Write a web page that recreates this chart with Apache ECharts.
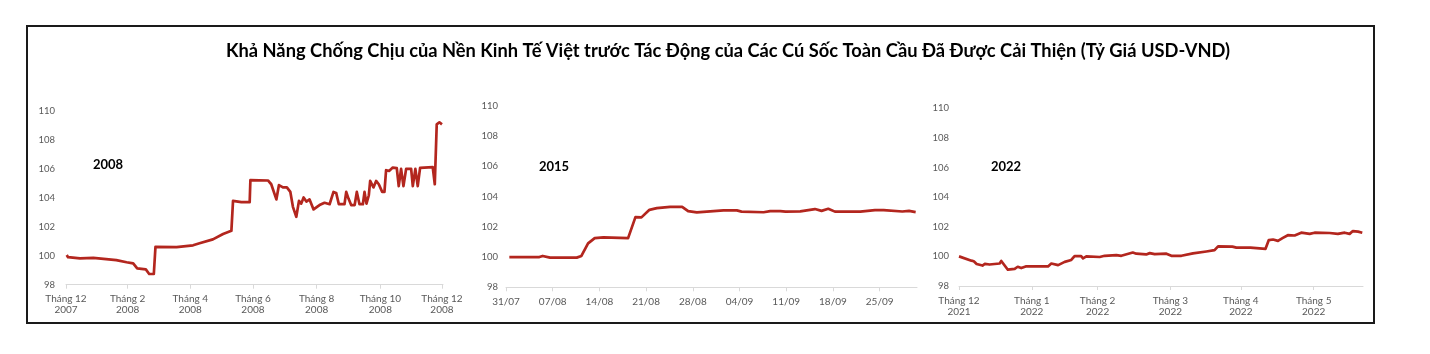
<!DOCTYPE html>
<html><head><meta charset="utf-8">
<script src="https://cdn.jsdelivr.net/npm/echarts@6/dist/echarts.min.js"></script>
<style>html,body{margin:0;padding:0;background:#fff}#c{width:1430px;height:354px}</style>
</head><body><div id="c"></div>
<script>
const titleText = 'Khả Năng Chống Chịu của Nền Kinh Tế Việt trước Tác Động của Các Cú Sốc Toàn Cầu Đã Được Cải Thiện (Tỷ Giá USD-VND)';
const panelYears = ['2008', '2015', '2022'];

// Panel 2008: days since 01/12/2007, index (01/12/2007 = 100)
const days2008 = [0.7, 2, 13.6, 15, 26.6, 49, 59, 65.4, 69.3, 77.7, 81, 85.5, 87.1, 107.6, 123.7, 130, 143, 152.9, 161, 162.6,
  170.7, 178.8, 179.5, 196.6, 199.8, 204.8, 207.3, 211.2, 215, 218.4, 220.9, 224.2, 226.8, 229, 231.3, 234, 237.1, 241, 246.8, 251.7,
  256.6, 260.4, 263, 265.6, 271.1, 272.8, 275, 277.6, 281, 283.1, 285.7, 289, 290.6, 292.5, 294.8, 296.1, 299.3, 301.9, 304.5, 307.8,
  310, 311.6, 314.5, 318.1, 322, 323.9, 326.2, 328.5, 331.1, 336, 337.6, 340.1, 342.4, 344.7, 357, 359, 360.9, 363.5, 366];
const vals2008 = [100.05, 99.9, 99.82, 99.87, 99.85, 99.7, 99.55, 99.47, 99.13, 99.06, 98.74, 98.74, 100.62, 100.6, 100.72, 100.86, 101.13, 101.5, 101.72, 103.79,
  103.7, 103.7, 105.22, 105.2, 104.94, 103.89, 104.88, 104.72, 104.72, 104.41, 103.38, 102.69, 103.79, 103.6, 104.03, 103.74, 103.89, 103.2, 103.5, 103.66,
  103.56, 104.41, 104.34, 103.56, 103.56, 104.41, 103.95, 103.5, 103.5, 104.41, 103.56, 103.56, 104.41, 103.6, 104.18, 105.17, 104.72, 105.17, 104.94, 104.41,
  104.41, 105.91, 105.86, 106.09, 106.05, 104.81, 106.0, 104.81, 106.0, 106.0, 104.81, 106.0, 104.81, 106.07, 106.12, 104.94, 109.08, 109.22, 109.08];
const ticks2008 = [0, 60, 121, 182, 244, 306, 366];
const labels2008 = ['Tháng 12\n2007', 'Tháng 2\n2008', 'Tháng 4\n2008', 'Tháng 6\n2008', 'Tháng 8\n2008', 'Tháng 10\n2008', 'Tháng 12\n2008'];

// Panel 2015: days since 31/07/2015
const days2015 = [0.5, 5, 5.5, 6.6, 10.6, 11.3, 12.3, 13.3, 14.6, 18.3, 19.4, 20.3, 21.5, 22.6, 24.6, 26.4, 27.3, 28.6, 32.6, 34.6,
  35.3, 38.6, 39.6, 41.1, 41.9, 44.1, 46.3, 47.3, 48.3, 49.3, 53.1, 55.3, 56.6, 59.4, 60.4, 61.4];
const vals2015 = [100, 100, 100.07, 99.96, 99.96, 100.07, 100.9, 101.25, 101.3, 101.25, 102.64, 102.62, 103.12, 103.23, 103.32, 103.32, 103.03, 102.95, 103.08, 103.08,
  103.0, 102.96, 103.03, 103.03, 103.0, 103.02, 103.17, 103.05, 103.19, 103.0, 103.0, 103.1, 103.1, 103.01, 103.05, 102.97];
const ticks2015 = [0, 7, 14, 21, 28, 35, 42, 49, 56];
const labels2015 = ['31/07', '07/08', '14/08', '21/08', '28/08', '04/09', '11/09', '18/09', '25/09'];

// Panel 2022: days since 01/12/2021
const days2022 = [0, 5.3, 6.3, 7.5, 10, 11, 13, 17.3, 18, 20.8, 23.7, 25, 26.5, 28.4, 37.9, 39.3, 42.2, 45, 47.8, 49.2,
  52, 52.8, 54.2, 59.9, 62, 67, 69.1, 74, 75.5, 79.7, 81.2, 83.3, 88.3, 90.4, 94.7, 95.4, 99.6, 105.3, 108.8, 110.3,
  111, 116.4, 118.1, 124.1, 130.5, 131.9, 133.7, 135.8, 137.9, 140, 142.9, 145.7, 149.3, 151.4, 157.8, 161.3, 164.2, 166.3, 167.7, 169.9, 171.7];
const vals2022 = [100.0, 99.71, 99.67, 99.49, 99.38, 99.49, 99.45, 99.52, 99.69, 99.1, 99.16, 99.3, 99.21, 99.32, 99.32, 99.52, 99.41, 99.63, 99.76, 100.02,
  100.02, 99.87, 100.0, 99.96, 100.04, 100.09, 100.04, 100.26, 100.18, 100.13, 100.22, 100.15, 100.18, 100.04, 100.04, 100.15, 100.2, 100.33, 100.42, 100.68,
  100.62, 100.66, 100.59, 100.59, 100.51, 101.1, 101.14, 101.05, 101.25, 101.43, 101.41, 101.6, 101.52, 101.6, 101.58, 101.52, 101.6, 101.52, 101.71, 101.67, 101.6];
const ticks2022 = [0, 31, 59, 90, 120, 151];
const labels2022 = ['Tháng 12\n2021', 'Tháng 1\n2022', 'Tháng 2\n2022', 'Tháng 3\n2022', 'Tháng 4\n2022', 'Tháng 5\n2022'];

const yMin = 98, yMax = 110, yStep = 2;

const FONT = 'Lato';
const LINE = '#B3261E';
const GREY = '#595959';

const panels = [
  {days: days2008, vals: vals2008, ticks: ticks2008, labels: labels2008, max: 367,  grid: {left: 66,  top: 111,   width: 377, height: 173.7}, ym: 11, year: {x: 108, y: 165}},
  {days: days2015, vals: vals2015, ticks: ticks2015, labels: labels2015, max: 61.6, grid: {left: 506, top: 105.7, width: 411, height: 181.6}, ym: 8,  year: {x: 554, y: 166.5}},
  {days: days2022, vals: vals2022, ticks: ticks2022, labels: labels2022, max: 172,  grid: {left: 959, top: 108.3, width: 404, height: 177.7}, ym: 10, year: {x: 1006, y: 166.5}}
];

const chart = echarts.init(document.getElementById('c'), null, {renderer: 'canvas'});
const option = {
  backgroundColor: '#fff',
  animation: false,
  title: {
    text: titleText, left: 723, top: 37, textAlign: 'center',
    textStyle: {fontFamily: FONT, fontSize: 18.3, fontWeight: 'bold', color: '#000'}
  },
  grid: panels.map(p => Object.assign({containLabel: false}, p.grid)),
  xAxis: panels.map((p, i) => ({
    type: 'value', gridIndex: i, min: 0, max: p.max,
    splitLine: {show: false},
    axisLine: {show: true, lineStyle: {color: '#d9d9d9', width: 1}},
    axisTick: {show: true, customValues: p.ticks, length: 4, lineStyle: {color: '#d9d9d9'}},
    axisLabel: {
      customValues: p.ticks,
      formatter: v => p.labels[p.ticks.indexOf(v)] || '',
      color: GREY, fontFamily: FONT, fontSize: 10, lineHeight: 11, margin: 9
    }
  })),
  yAxis: panels.map((p, i) => ({
    type: 'value', gridIndex: i, min: yMin, max: yMax, interval: yStep,
    splitLine: {show: false}, axisLine: {show: false}, axisTick: {show: false},
    axisLabel: {color: GREY, fontFamily: FONT, fontSize: 9.5, margin: p.ym}
  })),
  series: panels.map((p, i) => ({
    type: 'line', xAxisIndex: i, yAxisIndex: i,
    data: p.days.map((d, k) => [d, p.vals[k]]),
    showSymbol: false, symbol: 'none',
    lineStyle: {color: LINE, width: 2.7, join: 'round'},
    silent: true
  })),
  graphic: [
    {type: 'rect', shape: {x: 27, y: 26, width: 1347, height: 297}, style: {fill: 'none', stroke: '#1a1a1a', lineWidth: 2}, silent: true}
  ].concat(panels.map((p, i) => ({
    type: 'text', x: p.year.x, y: p.year.y,
    style: {text: panelYears[i], fill: '#000', font: 'bold 13px ' + FONT, textAlign: 'center', textVerticalAlign: 'middle'}
  })))
};
chart.setOption(option);
</script>
</body></html>
